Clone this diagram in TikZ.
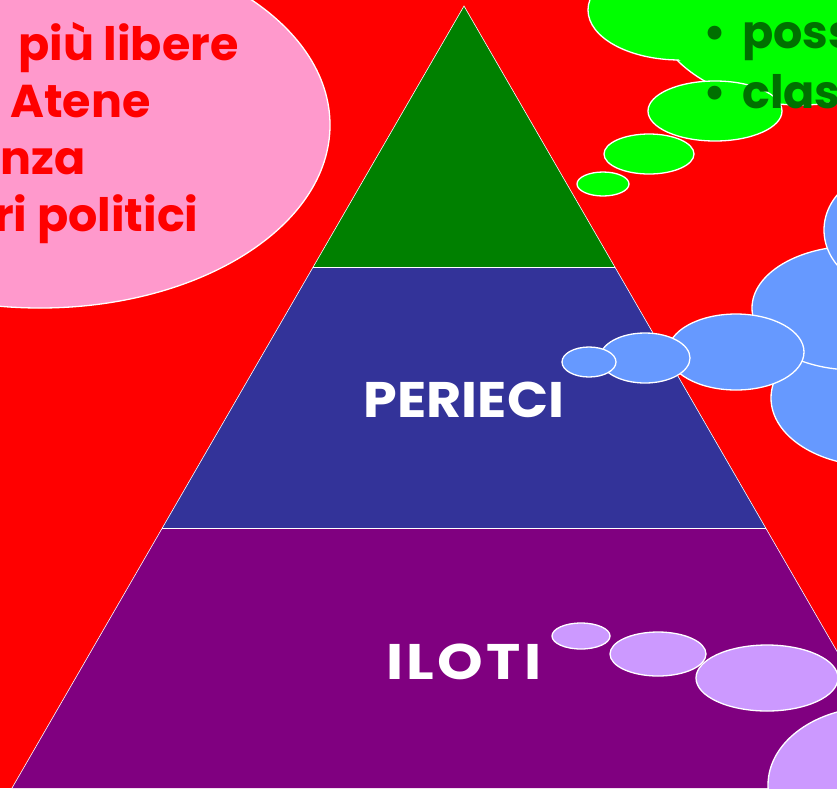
\documentclass[tikz,border=0pt]{standalone}
\usepackage{fontspec}
\setmainfont{Poppins}
\definecolor{bgred}{RGB}{255,0,0}
\definecolor{topgreen}{RGB}{0,128,0}
\definecolor{midblue}{RGB}{51,51,153}
\definecolor{botpurple}{RGB}{128,0,128}
\definecolor{pinkc}{RGB}{255,153,204}
\definecolor{limec}{RGB}{0,255,0}
\definecolor{skyc}{RGB}{102,153,255}
\definecolor{lavc}{RGB}{204,153,255}
\definecolor{txtgreen}{RGB}{0,112,0}
\begin{document}
\begin{tikzpicture}[x=1pt,y=-1pt,
  band/.style={draw=white,line width=0.6pt},
  bubble/.style={draw=white,line width=1.3pt},
  pinktxt/.style={anchor=base west,inner sep=0pt,text=bgred,font=\fontsize{46}{50}\selectfont\bfseries},
  greentxt/.style={anchor=base west,inner sep=0pt,text=txtgreen,font=\fontsize{46}{50}\selectfont\bfseries},
  bandtxt/.style={anchor=base,inner sep=0pt,text=white,font=\fontsize{50}{54}\selectfont\bfseries}]
\useasboundingbox (0,0) rectangle (837,788);
\fill[bgred] (0,0) rectangle (837,788);
% pyramid
\fill[botpurple] (162,528) -- (766,528) -- (916,788) -- (12,788) -- cycle;
\fill[midblue] (313,267) -- (615,267) -- (766,528) -- (162,528) -- cycle;
\fill[topgreen] (464,6) -- (615,267) -- (313,267) -- cycle;
\draw[band] (12,788) -- (464,6) -- (916,788);
\draw[band] (313,267) -- (615,267);
\draw[band] (162,528) -- (766,528);
% pink callout
\draw[bubble,fill=pinkc] (40,125) ellipse [x radius=290pt,y radius=183pt];
\node[pinktxt] (p1) at (18,60) {più libere};
\node[pinktxt] (p2) at (10,117) {Atene};
\node[pinktxt] (p3) at (0,174) {nza};
\node[pinktxt] (p4) at (-6,231) {ri politici};
% green callout
\draw[bubble,fill=limec] (800,0) ellipse [x radius=150pt,y radius=105pt];
\draw[bubble,fill=limec] (680,10) ellipse [x radius=92pt,y radius=50pt];
\fill[limec] (800,0) ellipse [x radius=148pt,y radius=103pt];
\draw[bubble,fill=limec] (715,111) ellipse [x radius=67pt,y radius=30pt];
\draw[bubble,fill=limec] (649,154) ellipse [x radius=45pt,y radius=20pt];
\draw[bubble,fill=limec] (603,184) ellipse [x radius=26pt,y radius=12pt];
\node[greentxt] (b0) at (703,-12) {•};
\node[greentxt] (b1) at (703,48) {•};
\node[greentxt] (g1) at (742,48) {poss};
\node[greentxt] (b2) at (703,108) {•};
\node[greentxt] (g2) at (742,108) {class};
% blue callout
\draw[bubble,fill=skyc] (875,398) ellipse [x radius=104pt,y radius=68pt];
\draw[bubble,fill=skyc] (855,308) ellipse [x radius=103pt,y radius=62pt];
\draw[bubble,fill=skyc] (894,230) ellipse [x radius=70pt,y radius=60pt];
\draw[bubble,fill=skyc] (736,352) ellipse [x radius=68pt,y radius=38pt];
\draw[bubble,fill=skyc] (645,358) ellipse [x radius=45pt,y radius=25pt];
\draw[bubble,fill=skyc] (589,362) ellipse [x radius=27pt,y radius=15pt];
% lavender callout
\draw[bubble,fill=lavc] (875,785) ellipse [x radius=107pt,y radius=78pt];
\draw[bubble,fill=lavc] (767,678) ellipse [x radius=71pt,y radius=33pt];
\draw[bubble,fill=lavc] (658,654) ellipse [x radius=48pt,y radius=22pt];
\draw[bubble,fill=lavc] (581,636) ellipse [x radius=29pt,y radius=13pt];
% band labels
\node[bandtxt] (perieci) at (464,417) {\scalebox{1.08}[1]{PERIECI}};
\node[bandtxt] (iloti) at (464,679) {\scalebox{1.16}[1]{I\kern3pt L\kern3pt O\kern3pt T\kern3pt I}};
\end{tikzpicture}
\end{document}
